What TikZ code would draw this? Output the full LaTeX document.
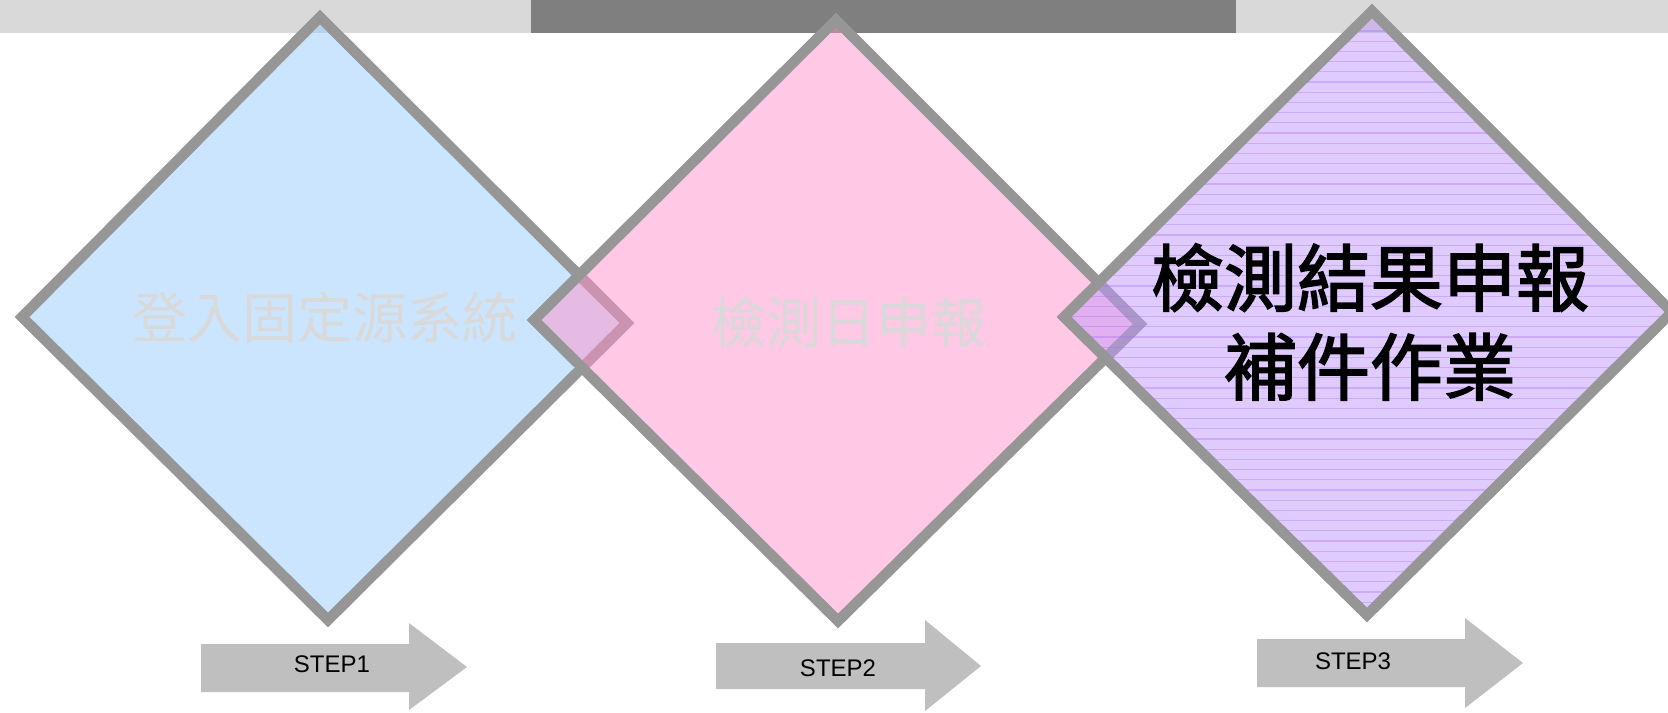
\documentclass[tikz,border=0pt]{standalone}
\usepackage{fontspec}
\newfontfamily\stepfont{Liberation Sans}
\newfontfamily\cjk{Noto Sans CJK TC}
\newfontfamily\cjkheavy[FakeBold=2.2]{Noto Sans CJK TC}
\definecolor{barlight}{HTML}{D9D9D9}
\definecolor{bardark}{HTML}{7F7F7F}
\definecolor{edgegray}{HTML}{969696}
\definecolor{arrowgray}{HTML}{BFBFBF}
\definecolor{dimtext}{HTML}{D9D9D9}
\definecolor{bluefill}{HTML}{99CCFF}
\definecolor{pinkfill}{HTML}{FF93CB}
\definecolor{purplefill}{HTML}{C399FF}
\definecolor{stripe}{HTML}{A870F0}
\tikzset{
  diamondline/.style={draw=edgegray, line width=5.25pt, line join=miter},
  steparrow/.style={fill=arrowgray},
  steplabel/.style={font=\stepfont\fontsize{12}{14}\selectfont, inner sep=0pt},
  dimlabel/.style={font=\cjk\fontsize{27.5}{30}\selectfont, text=dimtext, inner sep=0pt},
  mainlabel/.style={font=\cjkheavy\fontsize{36.5}{44.5}\selectfont, align=center, inner sep=0pt},
}
\begin{document}
\begin{tikzpicture}[x=0.5pt,y=-0.5pt]
      \useasboundingbox (0,0) rectangle (1668,712);
      \fill[white] (0,0) rectangle (1668,712);
      \fill[barlight] (0,0) rectangle (531,33);
      \fill[bardark] (531,0) rectangle (1236,33);
      \fill[barlight] (1236,0) rectangle (1668,33);
      \coordinate (d1t) at (320,17);
      \coordinate (d1l) at (22,317);
      \coordinate (d1b) at (328,620);
      \coordinate (d1r) at (627,323);
      \coordinate (d2t) at (836,20);
      \coordinate (d2l) at (534,320);
      \coordinate (d2b) at (838,621);
      \coordinate (d2r) at (1140,324);
      \coordinate (d3t) at (1372,11);
      \coordinate (d3l) at (1064,317);
      \coordinate (d3b) at (1367,615);
      \coordinate (d3r) at (1672,312);
      \fill[bluefill, fill opacity=0.5] (d1t) -- (d1r) -- (d1b) -- (d1l) -- cycle;
      \draw[diamondline] (d1t) -- (d1r) -- (d1b) -- (d1l) -- cycle;
      \fill[pinkfill, fill opacity=0.5] (d2t) -- (d2r) -- (d2b) -- (d2l) -- cycle;
      \draw[diamondline] (d2t) -- (d2r) -- (d2b) -- (d2l) -- cycle;
      \fill[purplefill, fill opacity=0.5] (d3t) -- (d3r) -- (d3b) -- (d3l) -- cycle;
      \begin{scope}
        \clip (d3t) -- (d3r) -- (d3b) -- (d3l) -- cycle;
        \foreach \k in {0,...,58}
          \draw[stripe, draw opacity=0.35, line width=0.6pt] (1040,{31+10.2*\k}) -- (1680,{31+10.2*\k});
      \end{scope}
      \draw[diamondline] (d3t) -- (d3r) -- (d3b) -- (d3l) -- cycle;
      \node[dimlabel] (login) at (325,318) {登入固定源系統};
      \node[dimlabel] (dayreport) at (849,322) {檢測日申報};
      \node[mainlabel] (resultreport) at (1370,322) {檢測結果申報\\補件作業};
      \fill[steparrow] (201,644) -- (409,644) -- (409,623) -- (467,667) -- (409,710)
        -- (409,692) -- (201,692) -- cycle;
      \fill[steparrow] (716,643) -- (925,643) -- (925,620) -- (981,666) -- (925,711)
        -- (925,689) -- (716,689) -- cycle;
      \fill[steparrow] (1257,639) -- (1465,639) -- (1465,618) -- (1523,663) -- (1465,708)
        -- (1465,687) -- (1257,687) -- cycle;
      \node[steplabel] (step1) at (332,664) {STEP1};
      \node[steplabel] (step2) at (838,668) {STEP2};
      \node[steplabel] (step3) at (1353,661) {STEP3};
    \end{tikzpicture}
\end{document}
